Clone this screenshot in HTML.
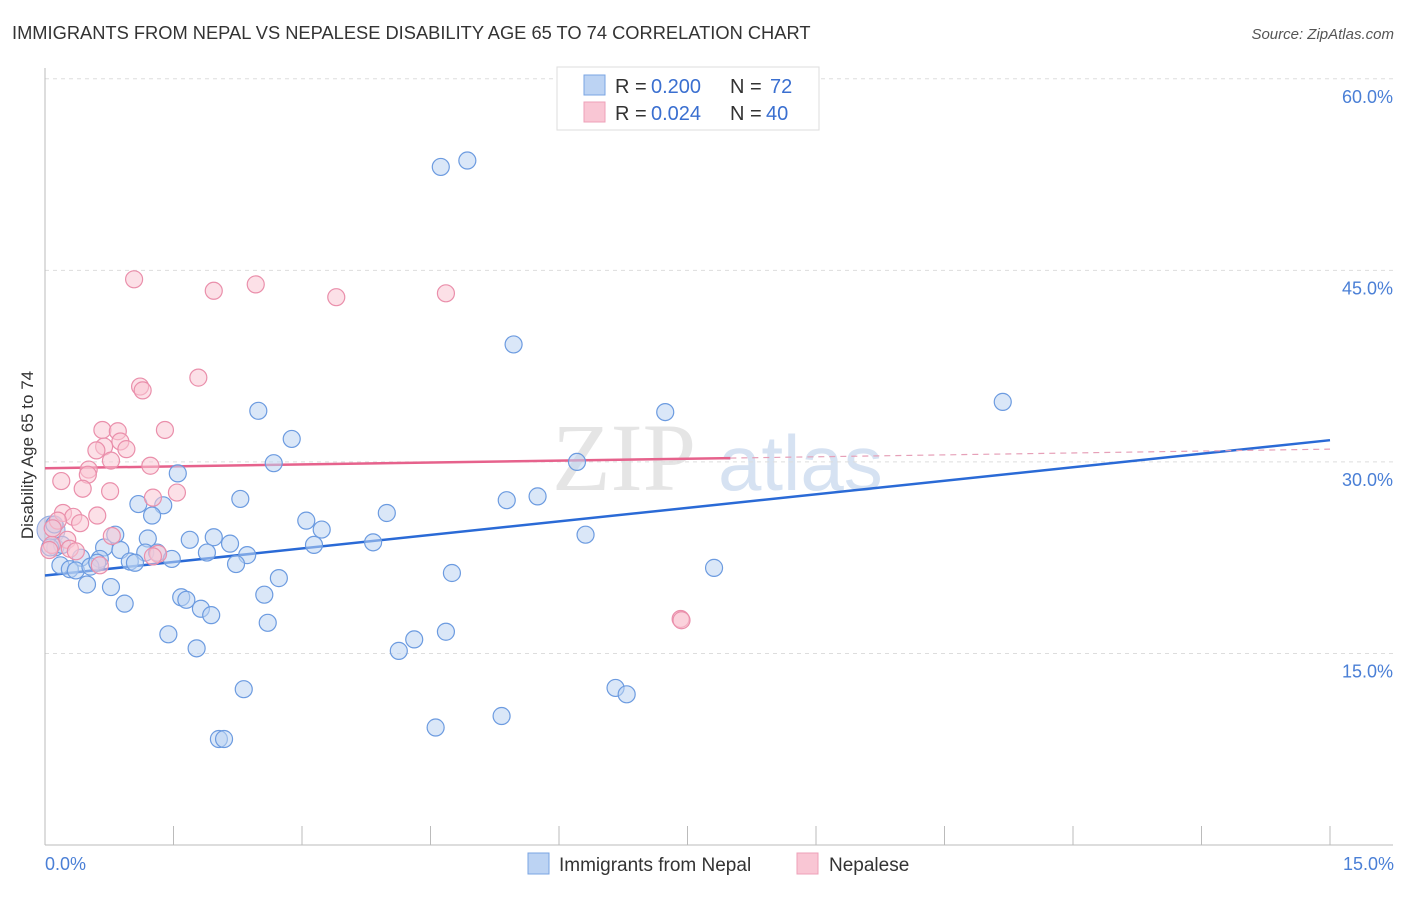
<!DOCTYPE html>
<html><head><meta charset="utf-8"><style>
body{margin:0;background:#fff;font-family:"Liberation Sans",sans-serif}
</style></head><body>
<svg width="1406" height="892" xmlns="http://www.w3.org/2000/svg" id="chart">
<text x="12" y="39" font-size="18.3" fill="#333">IMMIGRANTS FROM NEPAL VS NEPALESE DISABILITY AGE 65 TO 74 CORRELATION CHART</text>
<text x="1394" y="39" font-size="15" fill="#555" font-style="italic" text-anchor="end">Source: ZipAtlas.com</text>
<g><text x="552" y="490" font-size="96" fill="#e5e5e5" font-family="Liberation Serif,serif">ZIP</text><text x="718" y="490" font-size="78" fill="#d6e2f2">atlas</text></g>
<g id="grid"></g>
<g id="axes"></g>
<g id="trend"></g>
<g id="pts"></g>
<text x="33" y="455" font-size="17" fill="#333" transform="rotate(-90 33 455)" text-anchor="middle">Disability Age 65 to 74</text>
<text x="45" y="870" font-size="18" fill="#4a7fd6">0.0%</text>
<text x="1394" y="870" font-size="18" fill="#4a7fd6" text-anchor="end">15.0%</text>
<g>
<rect x="557" y="67" width="262" height="63" fill="#fff" stroke="#ddd"/>
<rect x="584" y="75" width="21" height="20" fill="#bcd3f3" stroke="#7aa5e3"/>
<rect x="584" y="102" width="21" height="20" fill="#f9c6d4" stroke="#eea0b8"/>
<text x="615" y="93" font-size="20" fill="#333">R =</text>
<text x="651" y="93" font-size="20" fill="#3a6fd0">0.200</text>
<text x="730" y="93" font-size="20" fill="#333">N =</text>
<text x="770" y="93" font-size="20" fill="#3a6fd0">72</text>
<text x="615" y="120" font-size="20" fill="#333">R =</text>
<text x="651" y="120" font-size="20" fill="#3a6fd0">0.024</text>
<text x="730" y="120" font-size="20" fill="#333">N =</text>
<text x="766" y="120" font-size="20" fill="#3a6fd0">40</text>
</g>
<g>
<rect x="528" y="853" width="21" height="21" fill="#bcd3f3" stroke="#7aa5e3"/>
<text x="559" y="871" font-size="19" fill="#333">Immigrants from Nepal</text>
<rect x="797" y="853" width="21" height="21" fill="#f9c6d4" stroke="#eea0b8"/>
<text x="829" y="871" font-size="19" fill="#333">Nepalese</text>
</g>
</svg>
<script>
const yTicks=[15,30,45,60];
const xTicks=[0,1.5,3,4.5,6,7.5,9,10.5,12,13.5,15];
const blueX=[4.62,4.93,5.47,2.49,2.88,7.24,11.18,6.21,2.67,1.55,5.75,5.39,2.28,1.09,1.38,1.25,3.05,3.99,3.23,6.31,0.82,1.2,1.69,1.97,2.16,3.83,3.14,0.12,0.2,0.69,0.88,1.17,1.31,0.42,0.64,0.99,1.48,1.89,2.36,2.23,1.05,0.18,0.29,0.36,0.53,0.61,7.81,4.75,2.73,0.49,0.77,2.56,0.93,1.59,1.65,1.82,1.94,2.6,1.44,4.31,4.68,4.13,1.77,6.66,6.79,2.32,5.33,4.56,2.03,2.09,0.11,0.06];
const blueY=[53.1,53.6,39.2,34.0,31.8,33.9,34.7,30.0,29.9,29.1,27.3,27.0,27.1,26.7,26.6,25.8,25.4,26.0,24.7,24.3,24.3,24.0,23.9,24.1,23.6,23.7,23.5,23.3,23.5,23.3,23.1,22.9,22.9,22.5,22.4,22.2,22.4,22.9,22.7,22.0,22.1,21.9,21.6,21.5,21.8,22.1,21.7,21.3,20.9,20.4,20.2,19.6,18.9,19.4,19.2,18.5,18.0,17.4,16.5,16.1,16.7,15.2,15.4,12.3,11.8,12.2,10.1,9.2,8.3,8.3,25.1,23.3];
const pinkX=[1.04,2.46,1.97,3.4,4.68,1.79,1.11,1.14,1.4,0.67,0.85,0.88,0.69,0.6,0.95,0.77,1.23,0.51,0.5,0.19,0.44,0.76,1.26,1.54,0.21,0.61,0.33,0.41,0.15,0.78,0.26,0.08,0.05,0.29,0.36,0.64,1.32,1.26,7.42,7.43,0.09];
const pinkY=[44.3,43.9,43.4,42.9,43.2,36.6,35.9,35.6,32.5,32.5,32.4,31.6,31.2,30.9,31.0,30.1,29.7,29.4,29.0,28.5,27.9,27.7,27.2,27.6,26.0,25.8,25.7,25.2,25.4,24.2,23.9,23.5,23.1,23.2,23.0,21.9,22.8,22.6,17.7,17.6,24.8];
const blueTrend=[21.1,31.7];
const pinkTrend=[29.5,31.0];
const X0=45,X1=1330,Y0=845,PY=12.77;
const sx=v=>X0+(X1-X0)*v/15, sy=v=>Y0-PY*v;
const NS="http://www.w3.org/2000/svg";
function mk(tag,attrs,parent){const e=document.createElementNS(NS,tag);for(const k in attrs)e.setAttribute(k,attrs[k]);document.getElementById(parent).appendChild(e);return e;}
yTicks.forEach(t=>{
 const l=mk('line',{x1:45,x2:1393,y1:sy(t),y2:sy(t),stroke:'#ddd','stroke-dasharray':'4,4'},'grid');
 
 
 const tx=mk('text',{x:1393,y:sy(t)+24,'font-size':18,fill:'#4a7fd6','text-anchor':'end'},'grid');
 tx.textContent=t.toFixed(1)+'%';
 
 
});
mk('line',{x1:45,x2:45,y1:68,y2:845,stroke:'#bbb'},'axes');
mk('line',{x1:45,x2:1393,y1:845,y2:845,stroke:'#bbb'},'axes');
xTicks.forEach(t=>{
 const l=mk('line',{x1:sx(t),x2:sx(t),y1:826,y2:845,stroke:'#bbb'},'axes');
 
 
});
function pts(xs,ys,fill,stroke,name){xs.forEach((x,i)=>{
 const c=mk('circle',{cx:sx(x),cy:sy(ys[i]),r:8.5,fill:fill,'fill-opacity':0.55,stroke:stroke,'stroke-width':1.2},'pts');
 
 
});}
mk('circle',{cx:51,cy:530,r:14,fill:'#b9b4d8','fill-opacity':0.5,stroke:'#8ea8e0'},'pts');
pts(blueX,blueY,'#bcd3f3','#6c9be0','point-nepal');
pts(pinkX,pinkY,'#f9c6d4','#ea8fab','point-nepalese');
const bt=mk('line',{x1:sx(0),x2:sx(15),y1:sy(blueTrend[0]),y2:sy(blueTrend[1]),stroke:'#2a6ad6','stroke-width':2.5},'trend');


const pm=pinkTrend[0]+(pinkTrend[1]-pinkTrend[0])*8/15;
const pt=mk('line',{x1:sx(0),x2:sx(8),y1:sy(pinkTrend[0]),y2:sy(pm),stroke:'#e6628c','stroke-width':2.5},'trend');


const pd=mk('line',{x1:sx(8),x2:sx(15),y1:sy(pm),y2:sy(pinkTrend[1]),stroke:'#e6a0b8','stroke-width':1.2,'stroke-dasharray':'6,5'},'trend');


</script>
</body></html>
